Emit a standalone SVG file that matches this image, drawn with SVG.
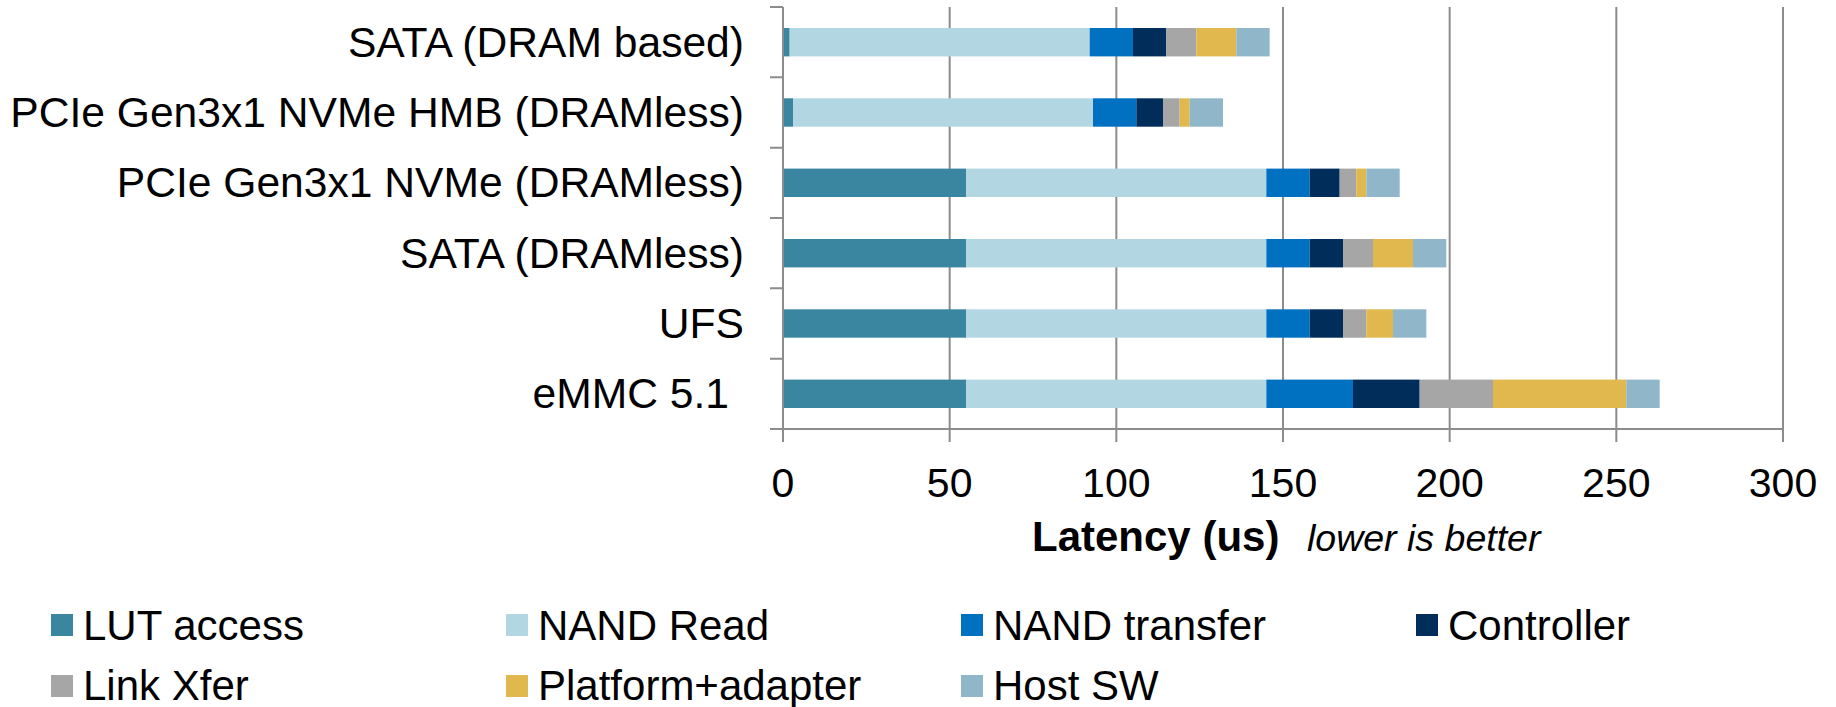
<svg xmlns="http://www.w3.org/2000/svg" width="1836" height="707" viewBox="0 0 1836 707">
<style>
text{font-family:"Liberation Sans",Arial,sans-serif;fill:#000}
.cat{font-size:42.6px;text-anchor:end}
.tick{font-size:41px;text-anchor:middle}
.leg{font-size:42px}
.grid{stroke:#8c8c8c;stroke-width:2;fill:none}
.lut{fill:#3a86a0}.nr{fill:#b3d7e2}.nt{fill:#0070c0}.ct{fill:#002d5a}.lk{fill:#a6a6a6}.pa{fill:#e1b84d}.hs{fill:#8fb6c9}
</style>
<rect width="1836" height="707" fill="#fff"/>
<g id="grid" class="grid">
<path d="M949.67 7V429M1116.33 7V429M1283 7V429M1449.67 7V429M1616.33 7V429M1783 7V429"/>
</g>
<g id="bars">
<g id="bar-sata-dram">
<rect class="lut" x="783" y="28" width="6.67" height="28.4"/>
<rect class="nr" x="789.67" y="28" width="300" height="28.4"/>
<rect class="nt" x="1089.67" y="28" width="43.33" height="28.4"/>
<rect class="ct" x="1133" y="28" width="33.33" height="28.4"/>
<rect class="lk" x="1166.33" y="28" width="30" height="28.4"/>
<rect class="pa" x="1196.33" y="28" width="40" height="28.4"/>
<rect class="hs" x="1236.33" y="28" width="33.34" height="28.4"/>
</g>
<g id="bar-pcie-hmb">
<rect class="lut" x="783" y="98.3" width="10" height="28.4"/>
<rect class="nr" x="793" y="98.3" width="300" height="28.4"/>
<rect class="nt" x="1093" y="98.3" width="43.33" height="28.4"/>
<rect class="ct" x="1136.33" y="98.3" width="26.67" height="28.4"/>
<rect class="lk" x="1163" y="98.3" width="16.67" height="28.4"/>
<rect class="pa" x="1179.67" y="98.3" width="10" height="28.4"/>
<rect class="hs" x="1189.67" y="98.3" width="33.33" height="28.4"/>
</g>
<g id="bar-pcie-dramless">
<rect class="lut" x="783" y="168.6" width="183.33" height="28.4"/>
<rect class="nr" x="966.33" y="168.6" width="300" height="28.4"/>
<rect class="nt" x="1266.33" y="168.6" width="43.34" height="28.4"/>
<rect class="ct" x="1309.67" y="168.6" width="30" height="28.4"/>
<rect class="lk" x="1339.67" y="168.6" width="16.66" height="28.4"/>
<rect class="pa" x="1356.33" y="168.6" width="10" height="28.4"/>
<rect class="hs" x="1366.33" y="168.6" width="33.34" height="28.4"/>
</g>
<g id="bar-sata-dramless">
<rect class="lut" x="783" y="239" width="183.33" height="28.4"/>
<rect class="nr" x="966.33" y="239" width="300" height="28.4"/>
<rect class="nt" x="1266.33" y="239" width="43.34" height="28.4"/>
<rect class="ct" x="1309.67" y="239" width="33.33" height="28.4"/>
<rect class="lk" x="1343" y="239" width="30" height="28.4"/>
<rect class="pa" x="1373" y="239" width="40" height="28.4"/>
<rect class="hs" x="1413" y="239" width="33.33" height="28.4"/>
</g>
<g id="bar-ufs">
<rect class="lut" x="783" y="309.3" width="183.33" height="28.4"/>
<rect class="nr" x="966.33" y="309.3" width="300" height="28.4"/>
<rect class="nt" x="1266.33" y="309.3" width="43.34" height="28.4"/>
<rect class="ct" x="1309.67" y="309.3" width="33.33" height="28.4"/>
<rect class="lk" x="1343" y="309.3" width="23.33" height="28.4"/>
<rect class="pa" x="1366.33" y="309.3" width="26.67" height="28.4"/>
<rect class="hs" x="1393" y="309.3" width="33.33" height="28.4"/>
</g>
<g id="bar-emmc">
<rect class="lut" x="783" y="379.6" width="183.33" height="28.4"/>
<rect class="nr" x="966.33" y="379.6" width="300" height="28.4"/>
<rect class="nt" x="1266.33" y="379.6" width="86.67" height="28.4"/>
<rect class="ct" x="1353" y="379.6" width="66.67" height="28.4"/>
<rect class="lk" x="1419.67" y="379.6" width="73.33" height="28.4"/>
<rect class="pa" x="1493" y="379.6" width="133.33" height="28.4"/>
<rect class="hs" x="1626.33" y="379.6" width="33.34" height="28.4"/>
</g>
</g>
<g id="axes" class="grid">
<path d="M783 7V429H1783"/>
<path d="M770 7H783M770 77.33H783M770 147.67H783M770 218H783M770 288.33H783M770 358.67H783M770 429H783"/>
<path d="M783 429V442M949.67 429V442M1116.33 429V442M1283 429V442M1449.67 429V442M1616.33 429V442M1783 429V442"/>
</g>
<g id="category-labels">
<text class="cat" x="744" y="56.8">SATA (DRAM based)</text>
<text class="cat" x="744" y="127">PCIe Gen3x1 NVMe HMB (DRAMless)</text>
<text class="cat" x="744" y="197.4">PCIe Gen3x1 NVMe (DRAMless)</text>
<text class="cat" x="744" y="267.5">SATA (DRAMless)</text>
<text class="cat" x="744" y="337.7">UFS</text>
<text class="cat" x="729" y="407.7">eMMC 5.1</text>
</g>
<g id="tick-labels">
<text class="tick" x="783" y="497">0</text>
<text class="tick" x="949.67" y="497">50</text>
<text class="tick" x="1116.33" y="497">100</text>
<text class="tick" x="1283" y="497">150</text>
<text class="tick" x="1449.67" y="497">200</text>
<text class="tick" x="1616.33" y="497">250</text>
<text class="tick" x="1783" y="497">300</text>
</g>
<g id="axis-title">
<text x="1032" y="551" font-size="42" font-weight="bold">Latency (us)</text>
<text x="1307" y="551" font-size="37.5" font-style="italic">lower is better</text>
</g>
<g id="legend">
<g id="leg-lut"><rect class="lut" x="51" y="614" width="22" height="22"/><text class="leg" x="83" y="640">LUT access</text></g>
<g id="leg-nr"><rect class="nr" x="506" y="614" width="22" height="22"/><text class="leg" x="538" y="640">NAND Read</text></g>
<g id="leg-nt"><rect class="nt" x="961" y="614" width="22" height="22"/><text class="leg" x="993" y="640">NAND transfer</text></g>
<g id="leg-ct"><rect class="ct" x="1416" y="614" width="22" height="22"/><text class="leg" x="1448" y="640">Controller</text></g>
<g id="leg-lk"><rect class="lk" x="51" y="675" width="22" height="22"/><text class="leg" x="83" y="700">Link Xfer</text></g>
<g id="leg-pa"><rect class="pa" x="506" y="675" width="22" height="22"/><text class="leg" x="538" y="700">Platform+adapter</text></g>
<g id="leg-hs"><rect class="hs" x="961" y="675" width="22" height="22"/><text class="leg" x="993" y="700">Host SW</text></g>
</g>
</svg>
